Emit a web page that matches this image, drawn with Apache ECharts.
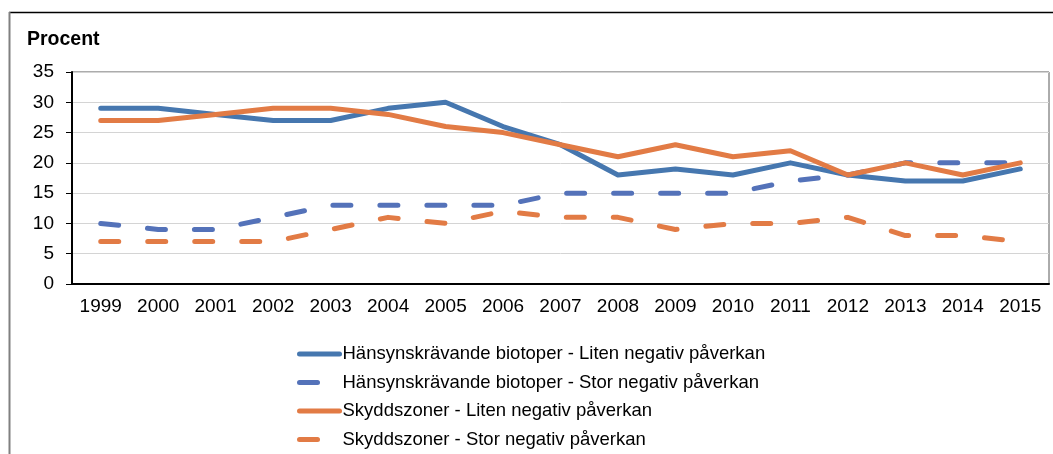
<!DOCTYPE html>
<html>
<head>
<meta charset="utf-8">
<script src="https://cdn.jsdelivr.net/npm/echarts@6/dist/echarts.min.js"></script>
<style>
html,body{margin:0;padding:0;background:#fff;}
#chart{width:1053px;height:454px;}
</style>
</head>
<body>
<div id="chart"></div>
<script>
var years = ['1999','2000','2001','2002','2003','2004','2005','2006','2007','2008','2009','2010','2011','2012','2013','2014','2015'];
var hansynLiten = [29,29,28,27,27,29,30,26,23,18,19,18,20,18,17,17,19];
var hansynStor  = [10,9,9,11,13,13,13,13,15,15,15,15,17,18,20,20,20];
var skyddLiten  = [27,27,28,29,29,28,26,25,23,21,23,21,22,18,20,18,20];
var skyddStor   = [7,7,7,7,9,11,10,12,11,11,9,10,10,11,8,8,7];
var names = [
  'Hänsynskrävande biotoper - Liten negativ påverkan',
  'Hänsynskrävande biotoper - Stor negativ påverkan',
  'Skyddszoner - Liten negativ påverkan',
  'Skyddszoner - Stor negativ påverkan'
];
var yTicks = {min:0, max:35, interval:5};

var font = '"Liberation Sans", Arial, sans-serif';
var chart = echarts.init(document.getElementById('chart'), null, {renderer:'canvas'});
function mk(name, data, color, dashed){
  return {
    name: name, type: 'line', data: data, symbol: 'none', smooth: false,
    lineStyle: {color: color, width: 5, type: dashed ? [18, 29] : 'solid', cap: 'round', join: 'round'},
    itemStyle: {color: color},
    emphasis: {disabled: true}, animation: false
  };
}
chart.setOption({
  animation: false,
  textStyle: {fontFamily: font},
  title: {text: 'Procent', left: 27, top: 30, padding: 0, textStyle: {fontSize: 19.5, fontWeight: 'bold', color: '#000', fontFamily: font}},
  grid: {left: 72, right: 4, top: 72, bottom: 170, show: true, borderColor: '#595959', borderWidth: 1, backgroundColor: 'transparent'},
  legend: {
    orient: 'vertical', left: 297, top: 344, height: 110, padding: 0,
    itemWidth: 40, itemHeight: 14, itemGap: 8.5,
    itemStyle: {opacity: 0},
    lineStyle: {width: 5, cap: 'round'},
    textStyle: {fontSize: 18.5, color: '#000', fontFamily: font, lineHeight: 20, padding: [0, 0, 0, -2]},
    data: names
  },
  xAxis: {
    type: 'category', data: years, boundaryGap: true,
    axisLine: {lineStyle: {color: '#000', width: 2}},
    axisTick: {alignWithLabel: true, length: 6, lineStyle: {color: '#000', width: 1}},
    axisLabel: {fontSize: 19, color: '#000', margin: 13, fontFamily: font},
    splitLine: {show: false}
  },
  yAxis: {
    type: 'value', min: yTicks.min, max: yTicks.max, interval: yTicks.interval,
    axisLine: {show: true, lineStyle: {color: '#000', width: 2}},
    axisTick: {show: true, length: 6, lineStyle: {color: '#000', width: 1}},
    axisLabel: {fontSize: 19, color: '#000', margin: 18, fontFamily: font},
    splitLine: {lineStyle: {color: '#d4d4d4', width: 1}}
  },
  graphic: [
    {type: 'line', shape: {x1: 9, y1: 12.5, x2: 1053, y2: 12.5}, style: {stroke: '#000', lineWidth: 1.5}, silent: true},
    {type: 'line', shape: {x1: 9.5, y1: 12, x2: 9.5, y2: 454}, style: {stroke: '#808080', lineWidth: 2}, silent: true}
  ],
  series: [
    mk(names[0], hansynLiten, '#4677AF', false),
    mk(names[1], hansynStor, '#5472B9', true),
    mk(names[2], skyddLiten, '#E27B45', false),
    mk(names[3], skyddStor, '#E27B45', true)
  ]
});
</script>
</body>
</html>
